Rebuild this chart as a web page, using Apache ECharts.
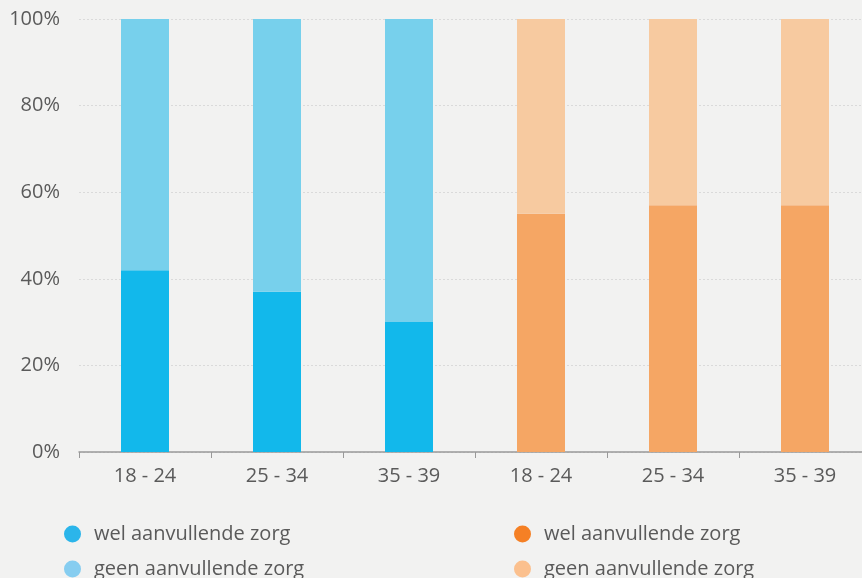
<!DOCTYPE html>
<html><head><meta charset="utf-8">
<script src="https://cdn.jsdelivr.net/npm/echarts@6/dist/echarts.min.js"></script>
<style>html,body{margin:0;padding:0;background:#F2F2F1;}#c{width:862px;height:578px;}</style>
</head><body><div id="c"></div>
<script>
var categories = ['18 - 24', '25 - 34', '35 - 39', '18 - 24 ', '25 - 34 ', '35 - 39 '];
var yTicks = [0, 20, 40, 60, 80, 100];
var welBlue = [42, 37, 30, '-', '-', '-'];
var geenBlue = [58, 63, 70, '-', '-', '-'];
var welOrange = ['-', '-', '-', 55, 57, 57];
var geenOrange = ['-', '-', '-', 45, 43, 43];
var legendLabel = { wb: 'wel aanvullende zorg', gb: 'geen aanvullende zorg', wo: 'wel aanvullende zorg', go: 'geen aanvullende zorg' };

var font = '"Open Sans", "Noto Sans", sans-serif';
function ser(id, data, legendColor, barColor) {
  return { name: id, type: 'bar', stack: 'all', barWidth: 48,
    itemStyle: { color: legendColor },
    emphasis: { disabled: true },
    data: data.map(function (v) { return v === '-' ? '-' : { value: v, itemStyle: { color: barColor } }; }) };
}
var series = [
  ser('wb', welBlue, '#2BB5EA', '#12B8EB'),
  ser('wo', welOrange, '#F58025', '#F5A664'),
  ser('gb', geenBlue, '#86CDF0', '#77D0EC'),
  ser('go', geenOrange, '#FBC08E', '#F7CAA0')
];
var legendText = { color: '#5A5A5A', fontSize: 20, fontFamily: font, lineHeight: 20, padding: [0, 0, 0, 8] };
var chart = echarts.init(document.getElementById('c'));
chart.setOption({
  backgroundColor: '#F2F2F1',
  animation: false,
  grid: { left: 79, width: 792, top: 19, bottom: 126, outerBoundsMode: 'none', containLabel: false },
  legend: [
    { data: ['wb', 'gb'], orient: 'vertical', left: 64, top: 524, height: 60, itemWidth: 17, itemHeight: 17, itemGap: 15, icon: 'circle', selectedMode: false,
      padding: 0, formatter: function (n) { return legendLabel[n]; }, textStyle: legendText },
    { data: ['wo', 'go'], orient: 'vertical', left: 514, top: 524, height: 60, itemWidth: 17, itemHeight: 17, itemGap: 15, icon: 'circle', selectedMode: false,
      padding: 0, formatter: function (n) { return legendLabel[n]; }, textStyle: legendText }
  ],
  xAxis: { type: 'category', data: categories,
    axisLine: { lineStyle: { color: '#999', width: 1.5 } },
    axisTick: { show: true, length: 6, lineStyle: { color: '#999' } },
    axisLabel: { color: '#5A5A5A', fontSize: 20, fontFamily: font, margin: 14, formatter: function (v) { return v.trim(); } } },
  yAxis: { type: 'value', min: yTicks[0], max: yTicks[yTicks.length - 1], interval: 20,
    axisLine: { show: false }, axisTick: { show: false },
    splitLine: { lineStyle: { color: '#DADADA', type: [2, 2] } },
    axisLabel: { color: '#5A5A5A', fontSize: 20, fontFamily: font, margin: 19, formatter: '{value}%' } },
  series: series
});
</script></body></html>
